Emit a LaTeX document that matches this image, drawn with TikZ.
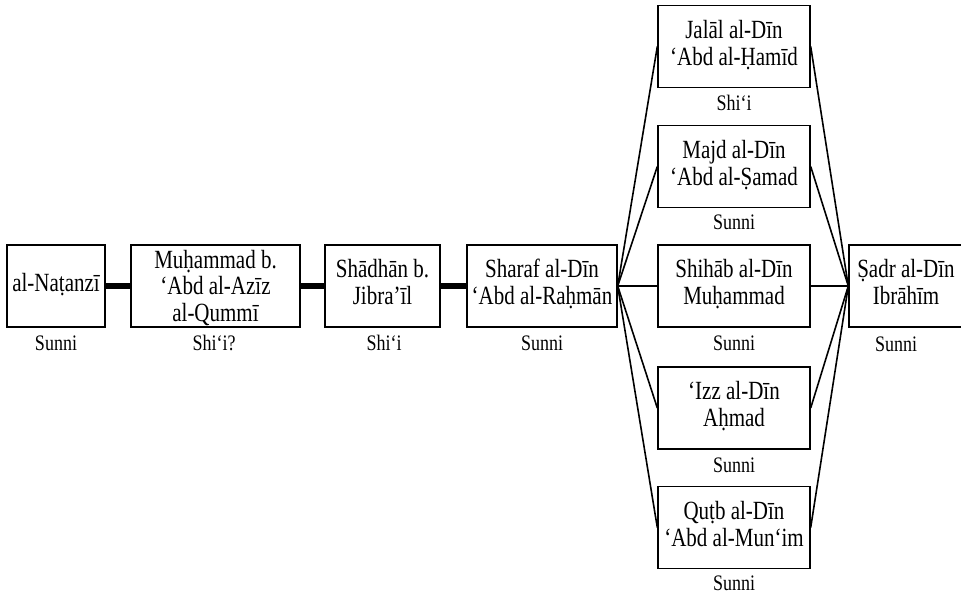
\documentclass[tikz,border=0pt]{standalone}
\usepackage{fontspec}
\usepackage{graphicx}
\setmainfont{Liberation Serif}
\newcommand{\bxtext}[1]{\scalebox{1}[1.25]{\fontsize{21}{21.5}\selectfont\begin{tabular}{@{}c@{}}#1\end{tabular}}}
\newcommand{\lbtext}[1]{\scalebox{1}[1.23]{\fontsize{18}{18}\selectfont #1}}
\tikzset{
  namebox/.style={draw, line width=1.4pt, inner sep=0pt, minimum height=82pt, align=center},
  rowlabel/.style={inner sep=0pt},
  heavy/.style={line width=5.5pt},
  fan/.style={line width=1.6pt},
}
\begin{document}
\begin{tikzpicture}[x=1pt,y=-1pt]
\useasboundingbox (0,0) rectangle (961,595);
\begin{scope}
\clip (0,0) rectangle (961,595);
% row boxes
\node[namebox, minimum width=98pt] (nat) at (56,286) {\bxtext{al-Naṭanzī}};
\node[namebox, minimum width=169pt] (muh) at (215.5,286) {\raisebox{-3.5pt}[\height][\depth]{\bxtext{Muḥammad b.\\‘Abd al-Azīz\\al-Qummī}}};
\node[namebox, minimum width=115pt] (sha) at (382.5,286) {\bxtext{Shādhān b.\\Jibra’īl}};
\node[namebox, minimum width=150pt] (shr) at (542,286) {\bxtext{Sharaf al-Dīn\\‘Abd al-Raḥmān}};
% column boxes
\node[namebox, minimum width=152pt] (jal) at (734,46.5) {\bxtext{Jalāl al-Dīn\\‘Abd al-Ḥamīd}};
\node[namebox, minimum width=152pt] (maj) at (734,166.5) {\bxtext{Majd al-Dīn\\‘Abd al-Ṣamad}};
\node[namebox, minimum width=152pt] (shi) at (734,286) {\bxtext{Shihāb al-Dīn\\Muḥammad}};
\node[namebox, minimum width=152pt] (izz) at (734,408) {\bxtext{‘Izz al-Dīn\\Aḥmad}};
\node[namebox, minimum width=152pt] (qut) at (734,527.5) {\bxtext{Quṭb al-Dīn\\‘Abd al-Mun‘im}};
% final box
\node[namebox, minimum width=114pt] (sad) at (906,286) {\bxtext{Ṣadr al-Dīn\\Ibrāhīm}};
% labels
\node[rowlabel] (lnat) at (56,343) {\lbtext{Sunni}};
\node[rowlabel] (lmuh) at (214,343) {\lbtext{Shi‘i?}};
\node[rowlabel] (lsha) at (384,343) {\lbtext{Shi‘i}};
\node[rowlabel] (lshr) at (542,343) {\lbtext{Sunni}};
\node[rowlabel] (ljal) at (734,103) {\lbtext{Shi‘i}};
\node[rowlabel] (lmaj) at (734,222) {\lbtext{Sunni}};
\node[rowlabel] (lshi) at (734,343) {\lbtext{Sunni}};
\node[rowlabel] (lizz) at (734,465) {\lbtext{Sunni}};
\node[rowlabel] (lqut) at (734,583) {\lbtext{Sunni}};
\node[rowlabel] (lsad) at (896,344) {\lbtext{Sunni}};
% heavy connectors
\draw[heavy] (nat.east) -- (muh.west);
\draw[heavy] (muh.east) -- (sha.west);
\draw[heavy] (sha.east) -- (shr.west);
% fan out
\foreach \t in {jal,maj,shi,izz,qut}{
  \draw[fan] (shr.east) -- (\t.west);
  \draw[fan] (\t.east) -- (sad.west);
}
\end{scope}
\end{tikzpicture}
\end{document}
